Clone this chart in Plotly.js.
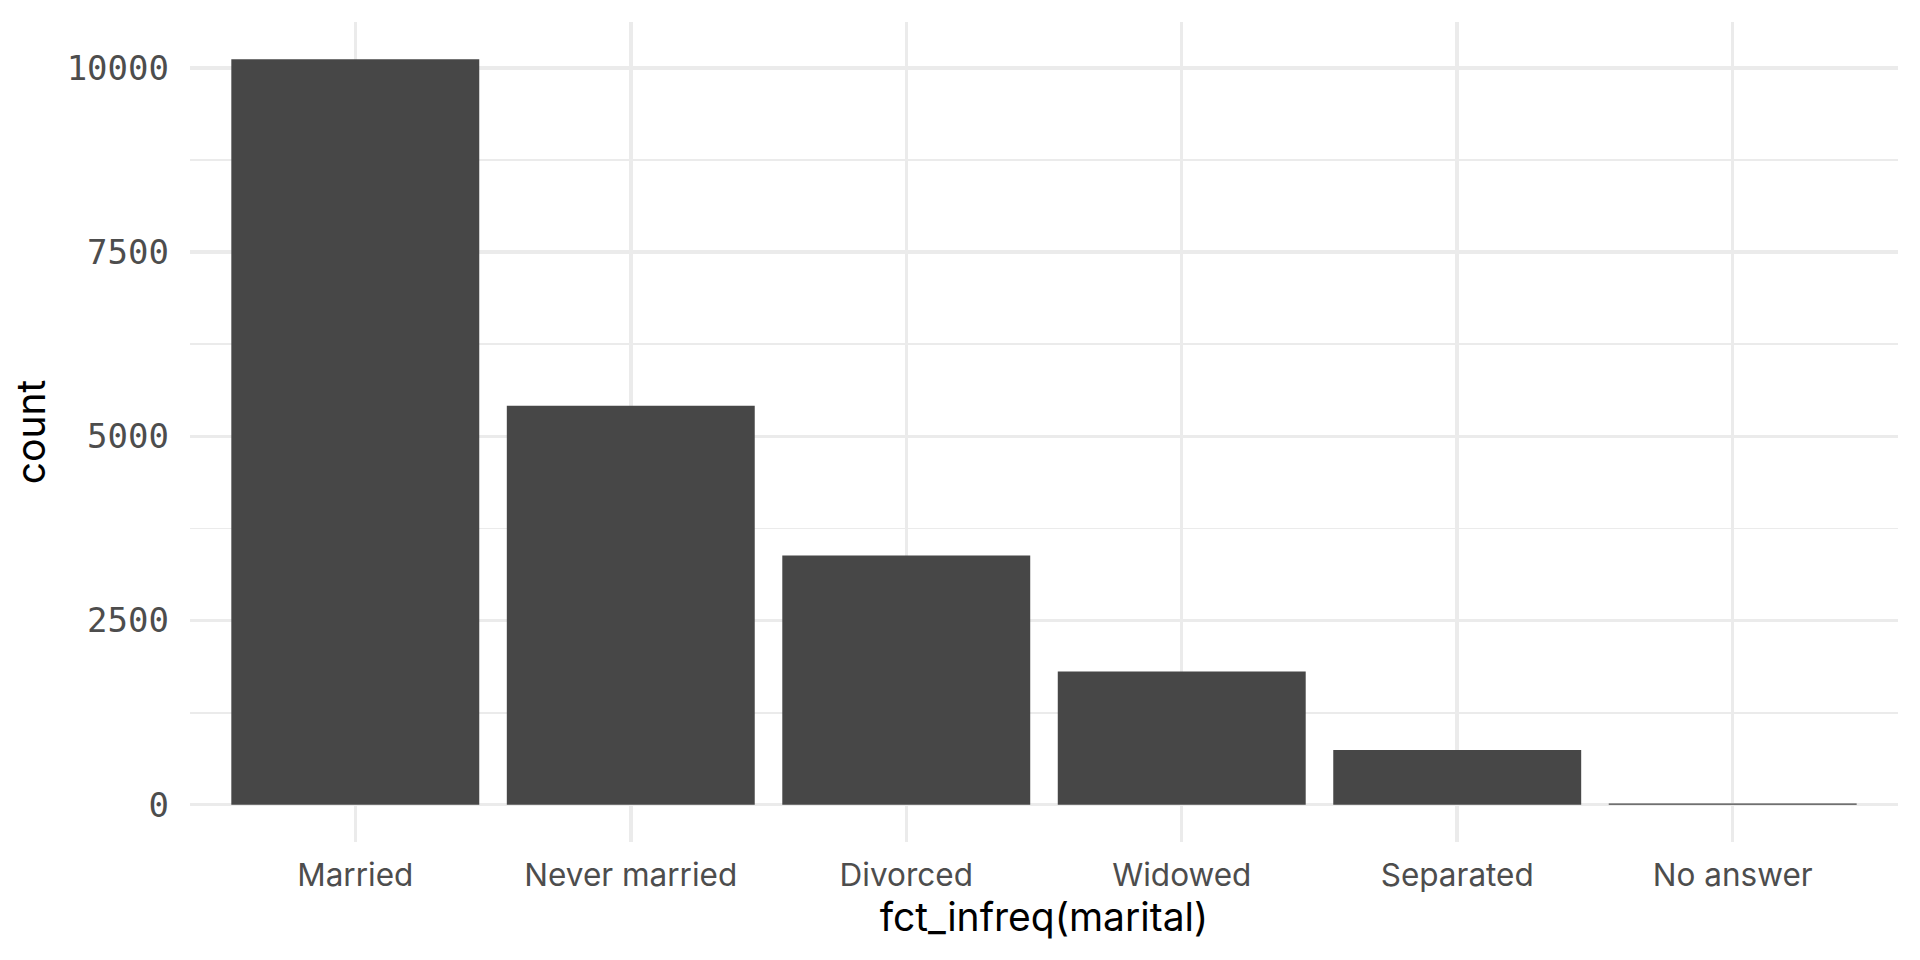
<!DOCTYPE html>
<html>
<head>
<meta charset="utf-8">
<script src="https://cdn.plot.ly/plotly-3.0.1.min.js"></script>
<style>
html, body { margin: 0; padding: 0; background: #ffffff; }
#chart { width: 1920px; height: 960px; }
</style>
</head>
<body>
<div id="chart"></div>
<script>
const categories = ["Married", "Never married", "Divorced", "Widowed", "Separated", "No answer"];
const counts = [10117, 5416, 3383, 1807, 743, 17];
const yTickValues = [0, 2500, 5000, 7500, 10000];
const yTickLabels = ["0", "2500", "5000", "7500", "10000"];
const xTitle = "fct_infreq(marital)";
const yTitle = "count";

const maxCount = Math.max.apply(null, counts);
const pad = maxCount * 0.05;

const trace = {
  type: "bar",
  x: categories,
  y: counts,
  marker: { color: "#474747", line: { width: 0 } },
  hoverinfo: "x+y"
};

const layout = {
  width: 1920,
  height: 960,
  paper_bgcolor: "#ffffff",
  plot_bgcolor: "#ffffff",
  margin: { l: 190, r: 22, t: 22, b: 118 },
  bargap: 0.1,
  showlegend: false,
  xaxis: {
    type: "category",
    range: [-0.6, categories.length - 0.4],
    showgrid: true,
    gridcolor: "#EBEBEB",
    gridwidth: 3.5,
    zeroline: false,
    showline: false,
    ticks: "",
    ticklabelstandoff: 11,
    tickfont: { family: "Inter, sans-serif", size: 31.5, color: "#4D4D4D" },
    title: { text: xTitle, font: { family: "Inter, sans-serif", size: 39, color: "#000000" }, standoff: 6 },
    automargin: false,
    fixedrange: true
  },
  yaxis: {
    range: [-pad, maxCount + pad],
    tickmode: "array",
    tickvals: yTickValues,
    ticktext: yTickLabels,
    showgrid: true,
    gridcolor: "#EBEBEB",
    gridwidth: 3.5,
    minor: { dtick: 1250, tick0: 0, showgrid: true, gridcolor: "#EBEBEB", gridwidth: 1.8, ticks: "" },
    zeroline: false,
    showline: false,
    ticks: "",
    ticklabelstandoff: 20,
    tickfont: { family: "DejaVu Sans Mono, monospace", size: 34, color: "#4D4D4D" },
    title: { text: yTitle, font: { family: "Inter, sans-serif", size: 39, color: "#000000" }, standoff: 8 },
    automargin: false,
    fixedrange: true
  }
};

Plotly.newPlot("chart", [trace], layout, { displayModeBar: false, staticPlot: true });
</script>
</body>
</html>
